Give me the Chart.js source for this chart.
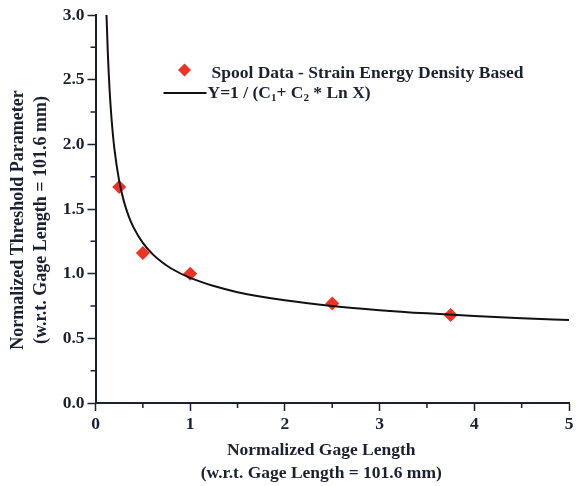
<!DOCTYPE html>
<html>
<head>
<meta charset="utf-8">
<script src="https://cdn.jsdelivr.net/npm/chart.js@4"></script>
<style>
  html, body { margin: 0; padding: 0; background: #ffffff; }
  #wrap { width: 576px; height: 486px; }
</style>
</head>
<body>
<div id="wrap"><canvas id="c" width="576" height="486"></canvas></div>
<script>
// Measured spool data (normalized gage length, normalized threshold parameter)
const dataX = [0.25, 0.5, 1.0, 2.5, 3.75];
const dataY = [1.67, 1.16, 1.00, 0.77, 0.68];

// Fitted curve Y = 1/(C1 + C2 ln X)
const curveX = [0.116, 0.12, 0.13, 0.14, 0.15, 0.17, 0.2, 0.25, 0.3, 0.35, 0.4, 0.5, 0.6, 0.7, 0.8, 1.0, 1.25, 1.5, 2.0, 2.5, 3.0, 3.5, 4.0, 4.5, 5.0];
const curveY = [3.0, 2.917, 2.711, 2.545, 2.407, 2.192, 1.963, 1.718, 1.559, 1.445, 1.360, 1.238, 1.153, 1.090, 1.040, 0.967, 0.904, 0.857, 0.794, 0.750, 0.718, 0.693, 0.673, 0.656, 0.642];

const seriesLabels = ['Spool Data - Strain Energy Density Based', 'Y=1 / (C1+ C2 * Ln X)'];
const xTitle = ['Normalized Gage Length', '(w.r.t. Gage Length = 101.6 mm)'];
const yTitle = ['Normalized Threshold Parameter', '(w.r.t. Gage Length = 101.6 mm)'];
const xMinorTicks = [0.5, 1.5, 2.5, 3.5, 4.5];
const yMinorTicks = [0.25, 0.75, 1.25, 1.75, 2.25, 2.75];

const INK = '#1b2130';
const RED = '#ec3324';
const FONT = "'Liberation Serif', 'Times New Roman', serif";

const extras = {
  id: 'extras',
  afterDraw(chart) {
    const ctx = chart.ctx;
    const a = chart.chartArea;
    const xs = chart.scales.x, ys = chart.scales.y;
    ctx.save();
    // minor ticks
    ctx.strokeStyle = INK;
    ctx.lineWidth = 1.5;
    ctx.beginPath();
    xMinorTicks.forEach(v => {
      const px = xs.getPixelForValue(v);
      ctx.moveTo(px, a.bottom); ctx.lineTo(px, a.bottom + 5);
    });
    yMinorTicks.forEach(v => {
      const py = ys.getPixelForValue(v);
      ctx.moveTo(a.left - 5, py); ctx.lineTo(a.left, py);
    });
    ctx.stroke();

    // axis titles
    ctx.fillStyle = INK;
    ctx.font = 'bold 17.5px ' + FONT;
    ctx.textAlign = 'center';
    ctx.textBaseline = 'middle';
    const cx = (a.left + a.right) / 2 - 11;
    ctx.fillText(xTitle[0], cx, a.bottom + 47);
    ctx.fillText(xTitle[1], cx, a.bottom + 70);
    const cy = (a.top + a.bottom) / 2 + 11;
    ctx.font = 'bold 18px ' + FONT;
    ctx.save();
    ctx.translate(18, cy);
    ctx.rotate(-Math.PI / 2);
    ctx.fillText(yTitle[0], 0, 0);
    ctx.restore();
    ctx.save();
    ctx.translate(41, cy);
    ctx.rotate(-Math.PI / 2);
    ctx.fillText(yTitle[1], 0, 0);
    ctx.restore();

    // legend
    ctx.font = 'bold 17.5px ' + FONT;
    const lx = a.left + 89, ly = a.top + 55;
    ctx.fillStyle = RED;
    ctx.beginPath();
    ctx.moveTo(lx, ly - 6.5); ctx.lineTo(lx + 6.5, ly); ctx.lineTo(lx, ly + 6.5); ctx.lineTo(lx - 6.5, ly);
    ctx.closePath(); ctx.fill();
    ctx.fillStyle = INK;
    ctx.textAlign = 'left';
    ctx.fillText(chart.data.datasets[0].label, lx + 27, ly + 3);
    const l2y = ly + 23;
    ctx.strokeStyle = '#111111';
    ctx.lineWidth = 2;
    ctx.beginPath();
    ctx.moveTo(lx - 21, l2y); ctx.lineTo(lx + 22, l2y); ctx.stroke();
    const big = 'bold 17.5px ' + FONT, small = 'bold 11px ' + FONT;
    let tx = lx + 23;
    const parts = [['Y=1 / (C', big, 0], ['1', small, 5], ['+ C', big, 0], ['2', small, 5], [' * Ln X)', big, 0]];
    parts.forEach(([t, f, dy]) => {
      ctx.font = f;
      ctx.fillText(t, tx, l2y + dy);
      tx += ctx.measureText(t).width;
    });
    ctx.restore();
  }
};

new Chart(document.getElementById('c'), {
  type: 'scatter',
  data: {
    datasets: [
      {
        label: seriesLabels[0],
        data: dataX.map((x, i) => ({ x: x, y: dataY[i] })),
        pointStyle: 'rectRot',
        pointRadius: 7,
        pointHoverRadius: 7,
        backgroundColor: RED,
        borderColor: RED,
        borderWidth: 0,
        showLine: false,
        order: 2
      },
      {
        label: seriesLabels[1],
        data: curveX.map((x, i) => ({ x: x, y: curveY[i] })),
        showLine: true,
        borderColor: '#111111',
        borderWidth: 2,
        pointRadius: 0,
        pointHoverRadius: 0,
        cubicInterpolationMode: 'monotone',
        fill: false,
        order: 1
      }
    ]
  },
  options: {
    responsive: false,
    animation: false,
    devicePixelRatio: 1,
    layout: { padding: { top: 15, right: 3.5, left: 0, bottom: 0 } },
    plugins: {
      legend: { display: false },
      tooltip: { enabled: false }
    },
    scales: {
      x: {
        type: 'linear',
        min: 0, max: 5,
        afterFit: s => { s.height = 83; s.paddingRight = 0; s.paddingLeft = 0; },
        ticks: {
          stepSize: 1,
          color: INK,
          padding: 3,
          font: { family: FONT, size: 17.5, weight: 'bold' },
          maxRotation: 0
        },
        grid: { drawOnChartArea: false, drawTicks: true, tickLength: 8, tickColor: INK, tickWidth: 1.5 },
        border: { display: true, color: INK, width: 2 }
      },
      y: {
        type: 'linear',
        min: 0, max: 3,
        afterFit: s => { s.width = 95.5; },
        ticks: {
          stepSize: 0.5,
          color: INK,
          padding: 3,
          font: { family: FONT, size: 17.5, weight: 'bold' },
          callback: v => Number(v).toFixed(1)
        },
        grid: { drawOnChartArea: false, drawTicks: true, tickLength: 8, tickColor: INK, tickWidth: 1.5 },
        border: { display: true, color: INK, width: 2 }
      }
    }
  },
  plugins: [extras]
});
</script>
</body>
</html>
